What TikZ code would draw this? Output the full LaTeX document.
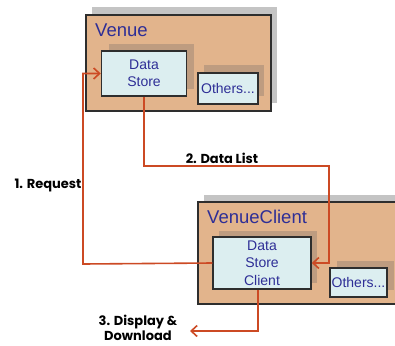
\documentclass[tikz,border=0pt]{standalone}
\usepackage{fontspec}
\setmainfont{Liberation Sans}
\newfontfamily\hand{Poppins}
\usetikzlibrary{arrows.meta}
\definecolor{tan}{HTML}{E2B48C}
\definecolor{shade}{HTML}{BE9C80}
\definecolor{gshade}{HTML}{C4C4C4}
\definecolor{cyanfill}{HTML}{DCEEF0}
\definecolor{edge}{HTML}{2E2E2E}
\definecolor{txtblue}{HTML}{2E2E96}
\definecolor{linered}{HTML}{CC4A24}
\tikzset{
  outerbox/.style={draw=edge, line width=1.5pt, fill=tan, inner sep=0pt},
  outershadow/.style={fill=gshade, inner sep=0pt},
  innerbox/.style={draw=edge, line width=1.5pt, fill=cyanfill, inner sep=0pt, text=txtblue, font=\fontsize{14}{17}\selectfont, align=center},
  innershadow/.style={fill=shade, inner sep=0pt},
  title/.style={text=txtblue, font=\fontsize{18.5}{20}\selectfont, inner sep=0pt, anchor=base west},
  arr/.style={draw=linered, line width=1.6pt, -{Straight Barb[length=6pt,width=11pt,line width=1.6pt]}},
  lbl/.style={font=\hand\bfseries\fontsize{13}{15}\selectfont, inner sep=0pt, align=center}
}
\begin{document}
\begin{tikzpicture}[x=1pt,y=-1pt]
\useasboundingbox (0,0) rectangle (395,345);
\clip (0,0) rectangle (395,345);
% Venue
\node[outershadow, minimum width=185pt, minimum height=96pt, xshift=6pt, yshift=8pt] (vsh) at (178.5,63) {};
\node[outerbox, minimum width=185pt, minimum height=96pt] (venue) at (178.5,63) {};
\node[title] (vt) at (95,37) {Venue};
\node[innershadow, minimum width=85pt, minimum height=45pt, xshift=7pt, yshift=7pt] (dssh) at (144,73.5) {};
\node[innerbox, minimum width=85pt, minimum height=45pt] (ds) at (144,73.5) {Data\\Store};
\node[innershadow, minimum width=60pt, minimum height=31pt, xshift=6pt, yshift=7pt] (o1sh) at (228,87.5) {};
\node[innerbox, minimum width=60pt, minimum height=31pt] (o1) at (228,88.5) {Others...};
% VenueClient
\node[outershadow, minimum width=207pt, minimum height=102pt, xshift=6pt, yshift=7pt] (vcsh) at (301.5,253) {};
\node[outerbox, minimum width=207pt, minimum height=102pt] (vc) at (301.5,253) {};
\node[title] (vct) at (207,223) {VenueClient};
\node[innershadow, minimum width=98pt, minimum height=52pt, xshift=6pt, yshift=6pt] (dscsh) at (262,263) {};
\node[innerbox, minimum width=98pt, minimum height=52pt, font=\fontsize{14}{17.5}\selectfont] (dsc) at (262,263) {Data\\Store\\Client};
\node[innershadow, minimum width=57pt, minimum height=29pt, xshift=7pt, yshift=7pt] (o2sh) at (358.5,282.5) {};
\node[innerbox, minimum width=57pt, minimum height=29pt] (o2) at (358.5,282.5) {Others...};
% connectors
\coordinate (rq) at (83,264);
\coordinate (dl) at (329,166);
\coordinate (dd) at (258,331);
\coordinate (ddend) at (190,331);
\draw[arr] (dsc.west) -- (rq) |- (ds.west);
\draw[arr] (ds.south) |- (dl) |- (dsc.east);
\draw[arr] (dsc.south -| dd) -- (dd) -- (ddend);
% labels
\node[lbl] (l1) at (48,185) {1. Request};
\node[lbl] (l2) at (222,158) {2. Data List};
\node[lbl] (l3) at (138,328) {3. Display \&\\Download};
\end{tikzpicture}
\end{document}
